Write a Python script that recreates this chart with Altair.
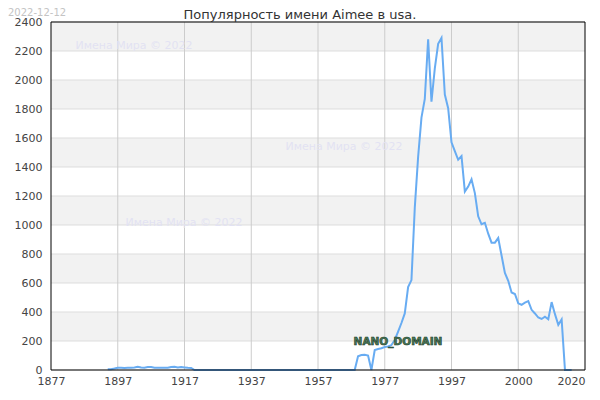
import altair as alt
import pandas as pd

# ---- data ----
years = list(range(1894, 2034))
counts = [
    5, 6, 10, 15, 15, 14, 15, 15, 17, 22,          # 1894-1903
    17, 15, 20, 21, 16, 15, 15, 16, 15, 21,        # 1904-1913
    22, 17, 21, 18, 15, 14, 0, 0, 0, 0,            # 1914-1923
    0, 0, 0, 0, 0, 0, 0, 0, 0, 0,                  # 1924-1933
    0, 0, 0, 0, 0, 0, 0, 0, 0, 0,                  # 1934-1943
    0, 0, 0, 0, 0, 0, 0, 0, 0, 0,                  # 1944-1953
    0, 0, 0, 0, 0, 0, 0, 0, 0, 0,                  # 1954-1963
    0, 0, 0, 0, 0, 95, 103, 105, 100, 0,           # 1964-1973
    138, 145, 150, 158, 162, 172, 207, 264, 324, 390,   # 1974-1983
    572, 620, 1120, 1470, 1740, 1870, 2280, 1850, 2080, 2250,  # 1984-1993
    2290, 1900, 1805, 1570, 1510, 1450, 1475, 1230, 1265, 1315,  # 1994-2003
    1220, 1060, 1005, 1015, 940, 878, 878, 910, 790, 670,  # 2004-2013
    615, 535, 524, 460, 450, 465, 475, 415, 390, 362,      # 2014-2023
    352, 368, 350, 468, 385, 312, 349, 0, 0, 0,            # 2024-2033
]

x_ticks = [1877, 1897, 1917, 1937, 1957, 1977, 1997, 2017, 2037]
y_ticks = [0, 200, 400, 600, 800, 1000, 1200, 1400, 1600, 1800, 2000, 2200, 2400]
band_lo = [2200, 1800, 1400, 1000, 600, 200]
band_hi = [2400, 2000, 1600, 1200, 800, 400]

title_text = "Популярность имени Aimee в usa."
date_text = "2022-12-12"
watermark = "Имена Мира © 2022"
nano_text = "NANO_DOMAIN"

W, H = 534, 348
FONT = "DejaVu Sans"

df = pd.DataFrame({"year": years, "count": counts})
bands = pd.DataFrame({"lo": band_lo, "hi": band_hi})
yg = pd.DataFrame({"v": y_ticks})
xg = pd.DataFrame({"v": x_ticks[1:-1]})

xscale = alt.Scale(domain=[1877, 2037], nice=False, zero=False)
yscale = alt.Scale(domain=[0, 2400], nice=False)

x_axis = alt.Axis(
    values=x_ticks, title=None, grid=False, ticks=False, domain=False,
    format="d", labelFont=FONT, labelFontSize=11, labelColor="#444444",
    labelPadding=5, labelOverlap=False, labelFlush=False,
    labelAlign={"condition": {"test": "datum.value == 2037", "value": "right"}, "value": "center"},
    labelExpr="datum.value == 2017 ? '2000' : (datum.value == 2037 ? '2020' : datum.label)",
)
y_axis = alt.Axis(
    values=y_ticks, title=None, grid=False, ticks=False, domain=False, format="d",
    labelFont=FONT, labelFontSize=11, labelColor="#444444", labelPadding=9,
    labelFlush=False,
)

band_layer = alt.Chart(bands).mark_rect(color="#f2f2f2").encode(
    x=alt.value(0), x2=alt.value(W),
    y=alt.Y("lo:Q", scale=yscale, axis=y_axis), y2="hi:Q",
)

ygrid = alt.Chart(yg).mark_rule(color="#dddddd", strokeWidth=1).encode(
    y=alt.Y("v:Q", scale=yscale, axis=y_axis)
)
xgrid = alt.Chart(xg).mark_rule(color="#cccccc", strokeWidth=1).encode(
    x=alt.X("v:Q", scale=xscale, axis=x_axis)
)

wm_df = pd.DataFrame({"t": [watermark] * 3, "px": [83, 293, 133], "py": [24, 125, 201]})
wm_layer = alt.Chart(wm_df).mark_text(
    font=FONT, fontSize=11, color="#e2e2f3", align="center", baseline="middle"
).encode(x=alt.X("px:Q", scale=None), y=alt.Y("py:Q", scale=None), text="t:N")

line = alt.Chart(df).mark_line(color="#68acf2", strokeWidth=2).encode(
    x=alt.X("year:Q", scale=xscale, axis=x_axis),
    y=alt.Y("count:Q", scale=yscale, axis=y_axis),
)

nano_df = pd.DataFrame({"t": [nano_text]})
nano_layer = alt.Chart(nano_df).mark_text(
    font=FONT, fontSize=10.5, fontWeight="bold", color="#4a7a58",
    stroke="#1d3a27", strokeWidth=0.6, align="center", baseline="middle",
).encode(x=alt.value(347), y=alt.value(320), text="t:N")

border = alt.Chart(nano_df).mark_rect(fillOpacity=0, stroke="#000000", strokeWidth=1).encode(
    x=alt.value(0), x2=alt.value(W), y=alt.value(0), y2=alt.value(H)
)

title_df = pd.DataFrame({"t": [title_text]})
title_layer = alt.Chart(title_df).mark_text(
    font=FONT, fontSize=13, color="#333333", align="center", baseline="alphabetic"
).encode(x=alt.value(249), y=alt.value(-3), text="t:N")

date_df = pd.DataFrame({"t": [date_text]})
date_layer = alt.Chart(date_df).mark_text(
    font=FONT, fontSize=10, color="#c4c4c4", align="left", baseline="top"
).encode(x=alt.value(-43), y=alt.value(-14), text="t:N")

chart = alt.layer(
    band_layer, ygrid, xgrid, wm_layer, line, nano_layer, border, title_layer, date_layer
).properties(
    width=W, height=H,
    autosize=alt.AutoSizeParams(type="none"),
    padding={"left": 43, "top": 14, "right": 7, "bottom": 20},
).configure_view(strokeWidth=0)

chart.save("out.html", embed_options={"renderer": "svg", "actions": False})
